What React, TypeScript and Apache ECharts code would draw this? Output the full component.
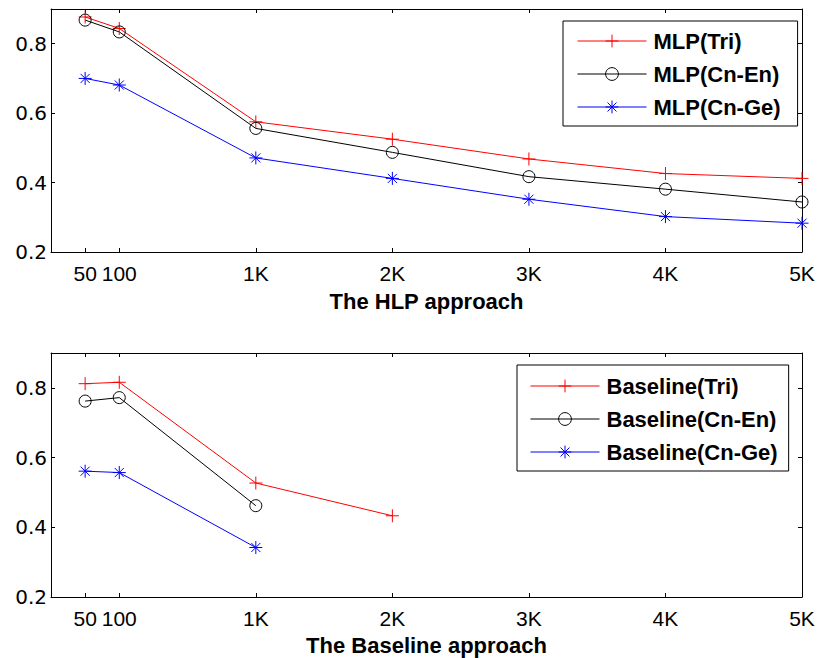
import React, { useEffect, useRef } from 'react';
import * as echarts from 'echarts';

// x positions (in thousands) at which the MATLAB figure placed its points, and their tick labels
const xPositions = [-0.25, 0, 1, 2, 3, 4, 5];
const xTickLabels = ['50', '100', '1K', '2K', '3K', '4K', '5K'];
const yTicks = [0.2, 0.4, 0.6, 0.8];

// The HLP approach
const mlpTri = [0.877, 0.844, 0.575, 0.525, 0.468, 0.426, 0.412];
const mlpCnEn = [0.868, 0.834, 0.556, 0.487, 0.417, 0.381, 0.344];
const mlpCnGe = [0.7, 0.681, 0.471, 0.412, 0.352, 0.302, 0.283];

// The Baseline approach
const baseTri = [0.812, 0.816, 0.527, 0.433];
const baseCnEn = [0.762, 0.772, 0.462];
const baseCnGe = [0.561, 0.557, 0.342];

const FONT = '"Liberation Sans", Arial, sans-serif';
const plusPath = 'path://M5,0L5,10M0,5L10,5';
const starPath = 'path://M5,0L5,10M0,5L10,5M1.5,1.5L8.5,8.5M1.5,8.5L8.5,1.5';

type Kind = 'tri' | 'en' | 'ge';

function makeSeries(name: string, values: number[], kind: Kind, gi: number) {
  const color = kind === 'tri' ? '#ff0000' : kind === 'en' ? '#000000' : '#0000ff';
  const symbol = kind === 'tri' ? plusPath : kind === 'en' ? 'circle' : starPath;
  const size = kind === 'en' ? 12 : 13;
  return {
    name,
    type: 'line',
    xAxisIndex: gi * 2,
    yAxisIndex: gi * 2,
    data: values.map((v, i) => [xPositions[i], v]),
    symbol,
    symbolSize: size,
    showSymbol: true,
    lineStyle: { color, width: 1 },
    itemStyle: {
      color: kind === 'en' ? 'rgba(0,0,0,0)' : color,
      borderColor: color,
      borderWidth: 1,
    },
    emphasis: { disabled: true },
    z: 3,
  };
}

function xAxes(gi: number, name: string, nameGap: number) {
  const tickCommon = {
    show: true,
    inside: true,
    length: 4,
    customValues: xPositions,
    lineStyle: { color: '#000', width: 1 },
  };
  return [
    {
      type: 'value',
      gridIndex: gi,
      position: 'bottom',
      min: -0.5,
      max: 5,
      name,
      nameLocation: 'middle',
      nameGap,
      nameTextStyle: { fontFamily: FONT, fontSize: 22, fontWeight: 'bold', color: '#000' },
      axisLine: { show: true, onZero: false, lineStyle: { color: '#000', width: 1 } },
      axisTick: tickCommon,
      axisLabel: {
        show: true,
        customValues: xPositions,
        margin: 11,
        fontFamily: FONT,
        fontSize: 21,
        color: '#000',
        formatter: (v: number) => {
          const i = xPositions.findIndex((p) => Math.abs(p - v) < 1e-6);
          return i >= 0 ? xTickLabels[i] : '';
        },
      },
      splitLine: { show: false },
    },
    {
      type: 'value',
      gridIndex: gi,
      position: 'top',
      min: -0.5,
      max: 5,
      axisLine: { show: true, onZero: false, lineStyle: { color: '#000', width: 1 } },
      axisTick: tickCommon,
      axisLabel: { show: false },
      splitLine: { show: false },
    },
  ];
}

function yAxes(gi: number) {
  const tickCommon = {
    show: true,
    inside: true,
    length: 4,
    customValues: yTicks,
    lineStyle: { color: '#000', width: 1 },
  };
  return [
    {
      type: 'value',
      gridIndex: gi,
      position: 'left',
      min: 0.2,
      max: 0.9,
      axisLine: { show: true, onZero: false, lineStyle: { color: '#000', width: 1 } },
      axisTick: tickCommon,
      axisLabel: {
        show: true,
        customValues: yTicks,
        margin: 4,
        fontFamily: '"DejaVu Sans", sans-serif',
        fontSize: 20,
        color: '#000',
        formatter: (v: number) => v.toFixed(1),
      },
      splitLine: { show: false },
    },
    {
      type: 'value',
      gridIndex: gi,
      position: 'right',
      min: 0.2,
      max: 0.9,
      axisLine: { show: true, onZero: false, lineStyle: { color: '#000', width: 1 } },
      axisTick: tickCommon,
      axisLabel: { show: false },
      splitLine: { show: false },
    },
  ];
}

function legend(names: string[], left: number, top: number, padding: number[]) {
  return {
    data: names,
    orient: 'vertical',
    left,
    top,
    padding,
    itemGap: 11,
    itemWidth: 69,
    itemHeight: 16,
    borderColor: '#000',
    borderWidth: 1,
    backgroundColor: '#fff',
    selectedMode: false,
    lineStyle: { width: 1 },
    itemStyle: { borderWidth: 1 },
    textStyle: {
      fontFamily: FONT,
      fontSize: 22,
      fontWeight: 'bold',
      color: '#000',
      lineHeight: 22,
      padding: [0, 0, 0, 2],
    },
    z: 10,
  };
}

export default function App() {
  const ref = useRef<HTMLDivElement>(null);
  useEffect(() => {
    document.body.style.margin = '0';
    if (!ref.current) return;
    const chart = echarts.init(ref.current, null, { renderer: 'svg' });
    chart.setOption({
      animation: false,
      backgroundColor: '#fff',
      grid: [
        { left: 51, top: 9, width: 751, height: 243 },
        { left: 51, top: 353, width: 751, height: 244 },
      ],
      xAxis: [...xAxes(0, 'The HLP approach', 38), ...xAxes(1, 'The Baseline approach', 37)],
      yAxis: [...yAxes(0), ...yAxes(1)],
      legend: [
        legend(['MLP(Tri)', 'MLP(Cn-En)', 'MLP(Cn-Ge)'], 563, 21, [9, 17, 8, 14]),
        legend(['Baseline(Tri)', 'Baseline(Cn-En)', 'Baseline(Cn-Ge)'], 517, 365, [10, 11, 8, 13]),
      ],
      series: [
        makeSeries('MLP(Tri)', mlpTri, 'tri', 0),
        makeSeries('MLP(Cn-En)', mlpCnEn, 'en', 0),
        makeSeries('MLP(Cn-Ge)', mlpCnGe, 'ge', 0),
        makeSeries('Baseline(Tri)', baseTri, 'tri', 1),
        makeSeries('Baseline(Cn-En)', baseCnEn, 'en', 1),
        makeSeries('Baseline(Cn-Ge)', baseCnGe, 'ge', 1),
      ],
    });
    return () => chart.dispose();
  }, []);
  return (
    <div
      ref={ref}
      style={{ position: 'absolute', left: 0, top: 0, width: 818, height: 658 }}
    />
  );
}
